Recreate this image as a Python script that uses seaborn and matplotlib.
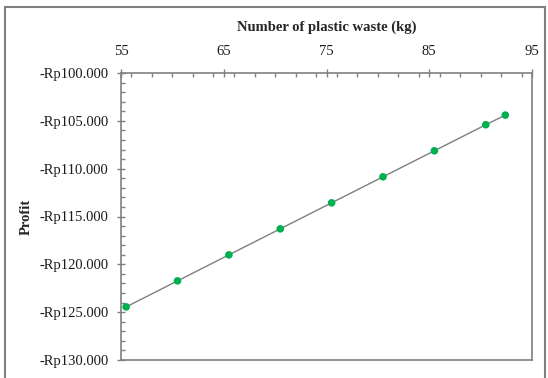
import seaborn as sns
import pandas as pd
import matplotlib.pyplot as plt
from matplotlib.ticker import MultipleLocator, FuncFormatter
from matplotlib.patches import Rectangle

# values
waste_kg = [55.5, 60.5, 65.5, 70.5, 75.5, 80.5, 85.5, 90.5, 92.4]
profit = [-124450, -121730, -119010, -116290, -113570, -110850, -108130, -105410, -104400]
x_ticks = [55, 65, 75, 85, 95]

df = pd.DataFrame({'waste': waste_kg, 'profit': profit})

sns.set_style('white')
plt.rcParams['font.family'] = ['Liberation Serif', 'DejaVu Serif']

fig = plt.figure(figsize=(5.48, 3.78), dpi=100)
ax = fig.add_axes([121 / 548, 1 - 360 / 378, 411 / 548, 287 / 378])

sns.lineplot(x='waste', y='profit', data=df, color='#7f7f7f', linewidth=1.0, ax=ax)
sns.scatterplot(x='waste', y='profit', data=df, color='#00b050', s=30, edgecolor='none', ax=ax, zorder=3)

ax.set_xlim(55, 95)
ax.set_ylim(-130000, -100000)
ax.set_xticks(x_ticks)
ax.xaxis.set_minor_locator(MultipleLocator(2))
ax.yaxis.set_major_locator(MultipleLocator(5000))
ax.yaxis.set_minor_locator(MultipleLocator(1000))
ax.yaxis.set_major_formatter(FuncFormatter(lambda v, p: '-Rp' + f'{abs(v):,.0f}'.replace(',', '.')))

ax.xaxis.tick_top()
ax.xaxis.set_label_position('top')
ax.tick_params(which='major', direction='inout', length=6, color='#808080', width=1,
               labelsize=10.5, labelcolor='#1a1a1a')
ax.tick_params(which='minor', direction='in', length=3, color='#808080', width=1)
ax.tick_params(axis='x', which='both', top=True, bottom=False, pad=8)
ax.tick_params(axis='y', which='both', left=True, right=False, pad=6)

for s in ax.spines.values():
    s.set_color('#808080')
    s.set_linewidth(1.2)

ax.set_xlabel('Number of plastic waste (kg)', fontsize=10.5, fontweight='bold', labelpad=10)
ax.set_ylabel('Profit', fontsize=10.5, fontweight='bold', labelpad=5)

fig.add_artist(Rectangle((5 / 548, -0.05), 540 / 548, 1.05 - 7 / 378, transform=fig.transFigure,
                         fill=False, edgecolor='#808080', linewidth=1.5))

plt.savefig('out.png', dpi=100)
